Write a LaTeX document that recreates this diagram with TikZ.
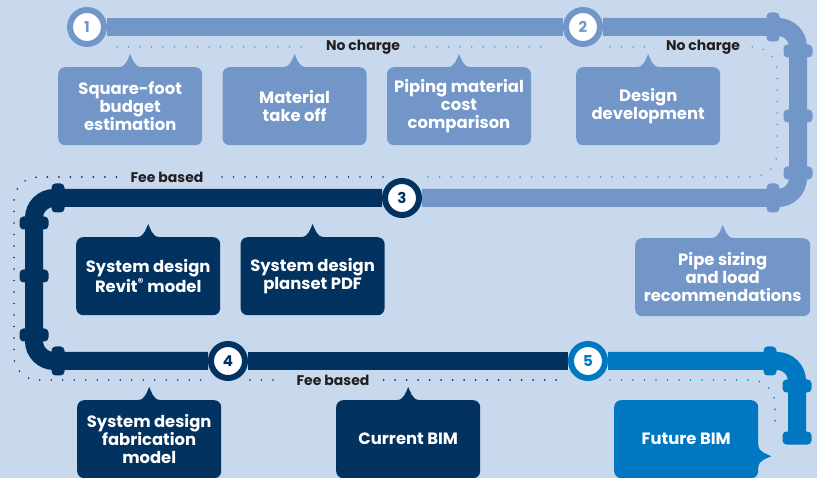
\documentclass[tikz,border=0pt]{standalone}
\usepackage{fontspec}
\setmainfont{Poppins}
\usetikzlibrary{positioning}
\usetikzlibrary{backgrounds}
\definecolor{bgblue}{HTML}{C8D9EE}
\definecolor{lightpipe}{HTML}{7396C9}
\definecolor{navypipe}{HTML}{02325F}
\definecolor{brightpipe}{HTML}{0078C1}
\definecolor{labeltext}{HTML}{231F20}

\begin{document}
\begin{tikzpicture}[
  x=1pt, y=-1pt,
  box/.style={rounded corners=7pt, align=center, text=white, anchor=north west,
    minimum width=144pt, minimum height=78pt, inner sep=1pt,
    font=\fontsize{16.4}{18.2}\selectfont\bfseries},
  stagecirc/.style={circle, draw=#1, line width=6pt, fill=white, text=#1,
    minimum size=34pt, inner sep=0pt, font=\fontsize{15}{15}\selectfont\bfseries},
  pipe/.style={line width=18pt, draw=#1, rounded corners=20pt},
  flangeh/.style={fill=#1, rounded corners=4pt, minimum width=13pt, minimum height=29pt, inner sep=0pt},
  flangev/.style={fill=#1, rounded corners=4pt, minimum width=29pt, minimum height=13pt, inner sep=0pt},
  guide/.style={draw=#1, line width=1.8pt, line cap=round, dash pattern=on 0pt off 11.5pt, rounded corners=24pt},
  fee/.style={text=labeltext, inner sep=0pt, font=\fontsize{14}{14}\selectfont\bfseries},
  pics/tabup/.style={code={
    \fill[#1] (-11,1) -- (-11,0) .. controls (-4,0) and (-2,-9) .. (0,-13)
      .. controls (2,-9) and (4,0) .. (11,0) -- (11,1) -- cycle;}}
]
\useasboundingbox (0,0) rectangle (817,478);

% --- Stage markers -----------------------------------------------------------
\node[stagecirc=lightpipe]  (c1) at (87,27)   {1};
\node[stagecirc=lightpipe]  (c2) at (583,27)  {2};
\node[stagecirc=navypipe]   (c3) at (402,198) {3};
\node[stagecirc=navypipe]   (c4) at (228,361) {4};
\node[stagecirc=brightpipe] (c5) at (588,361) {5};

% --- Pricing labels ----------------------------------------------------------
\node[fee] (nocharge1) at (363,47)  {No charge};
\node[fee] (nocharge2) at (703,47)  {No charge};
\node[fee] (feebased1) at (167,177) {Fee based};
\node[fee] (feebased2) at (333,380) {Fee based};

% --- Row 1: no charge services -----------------------------------------------
\node[box, fill=lightpipe] (sqft) at (58,67) {Square-foot\\budget\\estimation};
\node[box, fill=lightpipe, right=20pt of sqft] (takeoff) {Material\\take off};
\node[box, fill=lightpipe, right=20pt of takeoff] (pipecost) {Piping material\\cost\\comparison};
\node[box, fill=lightpipe] (designdev) at (576,67) {Design\\development};

% --- Row 2 -------------------------------------------------------------------
\node[box, fill=navypipe] (revit) at (76,237) {System design\\Revit\textsuperscript{®} model};
\node[box, fill=navypipe, right=20pt of revit] (planset) {System design\\planset PDF};
\node[box, fill=lightpipe, minimum width=175pt] (sizing) at (635,238) {Pipe sizing\\and load\\recommendations};

% --- Row 3 -------------------------------------------------------------------
\node[box, fill=navypipe] (fabmodel) at (77,400) {System design\\fabrication\\model};
\node[box, fill=navypipe] (currentbim) at (336,400) {Current BIM};
\node[box, fill=brightpipe] (futurebim) at (614,400) {Future BIM};

% --- Callout tabs ------------------------------------------------------------
\pic at (sqft.north)      {tabup=lightpipe};
\pic at (takeoff.north)   {tabup=lightpipe};
\pic at (pipecost.north)  {tabup=lightpipe};
\pic at (designdev.north) {tabup=lightpipe};
\pic at (revit.north)     {tabup=navypipe};
\pic at (planset.north)   {tabup=navypipe};
\pic at (sizing.north)    {tabup=lightpipe};
\pic at (fabmodel.north)  {tabup=navypipe};
\pic at (currentbim.north){tabup=navypipe};
\pic[rotate=-90] at ([yshift=-17pt]futurebim.east) {tabup=brightpipe};

\begin{scope}[on background layer]
\fill[bgblue] (0,0) rectangle (817,478);

% --- Dotted guides -----------------------------------------------------------
\draw[guide=lightpipe] (117,47) -- ([xshift=-14pt]nocharge1.west);
\draw[guide=lightpipe] ([xshift=14pt]nocharge1.east) -- (545,47);
\draw[guide=lightpipe] (610,47) -- ([xshift=-12pt]nocharge2.west);
\draw[guide=lightpipe] ([xshift=12pt]nocharge2.east) -- (777,47) -- (777,177) -- (423,177);
\draw[guide=navypipe] (383,177) -- ([xshift=14pt]feebased1.east);
\draw[guide=navypipe] ([xshift=-14pt]feebased1.west) -- (14,177) -- (14,380) -- (207,380);
\draw[guide=navypipe] (250,380) -- ([xshift=-14pt]feebased2.west);
\draw[guide=navypipe] ([xshift=14pt]feebased2.east) -- (557,380);
\draw[guide=brightpipe] (610,380) -- (775,380) -- (775,423);

% --- Pipes -------------------------------------------------------------------
\draw[pipe=lightpipe] (c1.east) -- (c2.west);
\draw[pipe=lightpipe] (c2.east) -- (798,27) -- (798,198) -- (c3.east);
\draw[pipe=navypipe] (c3.west) -- (34,198) -- (34,361) -- (c4.west);
\draw[pipe=navypipe] (c4.east) -- (c5.west);
\draw[pipe=brightpipe] (c5.east) -- (797,361) -- (797,440);

% --- Flanges -----------------------------------------------------------------
\foreach \fx/\fy [count=\i] in {773/27, 773/198}
  \node[flangeh=lightpipe] (lfh\i) at (\fx,\fy) {};
\foreach \fy [count=\i] in {51, 116, 173}
  \node[flangev=lightpipe] (lfv\i) at (798,\fy) {};
\foreach \fy [count=\i] in {198, 361}
  \node[flangeh=navypipe] (nfh\i) at (58,\fy) {};
\foreach \fy [count=\i] in {223, 276, 335}
  \node[flangev=navypipe] (nfv\i) at (34,\fy) {};
\node[flangeh=brightpipe] (bfh1) at (770,361) {};
\foreach \fy [count=\i] in {386, 438}
  \node[flangev=brightpipe] (bfv\i) at (797,\fy) {};
\end{scope}

\end{tikzpicture}
\end{document}
